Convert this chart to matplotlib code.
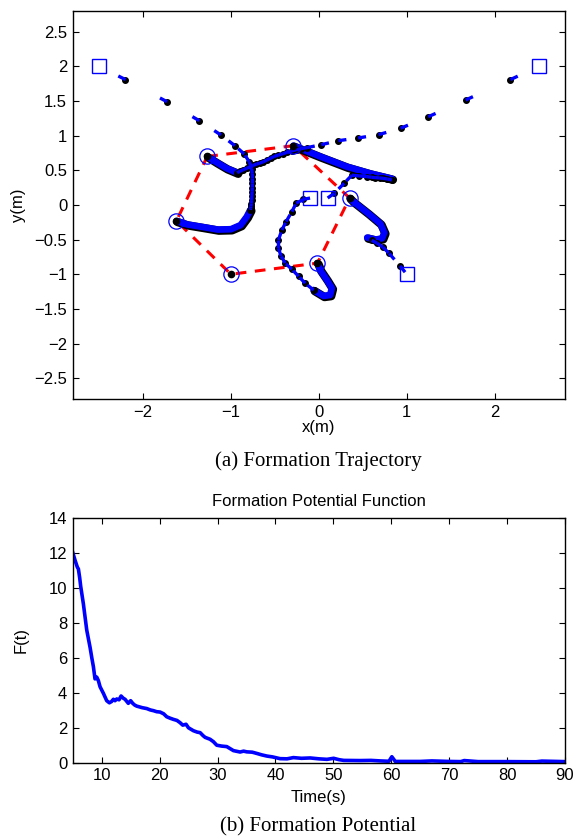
import numpy as np
import matplotlib
matplotlib.use("Agg")
import matplotlib.pyplot as plt
import matplotlib.patheffects as pe
from matplotlib.collections import LineCollection

plt.rcParams['font.family'] = ['Liberation Sans', 'DejaVu Sans']

# ---- robot trajectories (x, y) in metres ----
# sampled positions (black dots on the dashed blue path)
r1_x = [-2.5, -2.2, -1.727, -1.36, -1.114, -0.955, -0.849, -0.79, -0.765, -0.757, -0.755, -0.756, -0.757,
        -0.76, -0.762, -0.765, -0.768, -0.772, -0.776, -0.78]
r1_y = [2.0, 1.81, 1.49, 1.216, 1.01, 0.856, 0.736, 0.62, 0.52, 0.45, 0.38, 0.31, 0.25,
        0.19, 0.13, 0.07, 0.02, -0.02, -0.05, -0.07]
r2_x = [2.5, 2.18, 1.67, 1.245, 0.93, 0.68, 0.447, 0.223, 0.026, -0.136, -0.2, -0.25, -0.31, -0.36, -0.41,
        -0.46, -0.51, -0.55, -0.59, -0.63, -0.67, -0.71, -0.75, -0.78, -0.82, -0.86, -0.9, -0.93]
r2_y = [2.0, 1.81, 1.515, 1.274, 1.107, 1.015, 0.967, 0.928, 0.87, 0.827, 0.815, 0.80, 0.78, 0.76, 0.74,
        0.72, 0.70, 0.675, 0.65, 0.625, 0.605, 0.59, 0.57, 0.55, 0.53, 0.51, 0.485, 0.466]
r3_x = [0.1, 0.174, 0.288, 0.375, 0.46, 0.545, 0.6, 0.64, 0.69, 0.73, 0.78, 0.83]
r3_y = [0.1, 0.168, 0.313, 0.43, 0.42, 0.41, 0.40, 0.395, 0.39, 0.385, 0.375, 0.36]
r4_x = [-0.1, -0.175, -0.258, -0.307, -0.372, -0.42, -0.46, -0.46, -0.43, -0.383, -0.307, -0.23, -0.156, -0.06]
r4_y = [0.1, 0.082, 0.025, -0.096, -0.24, -0.36, -0.505, -0.625, -0.736, -0.84, -0.928, -1.03, -1.13, -1.227]
r5_x = [1.0, 0.924, 0.80, 0.73, 0.66, 0.6]
r5_y = [-1.0, -0.88, -0.70, -0.61, -0.55, -0.51]

# slow final approach (dense samples -> thick line)
s1_x = [-0.78, -0.82, -0.89, -1.0, -1.15, -1.31, -1.5, -1.62]
s1_y = [-0.07, -0.17, -0.29, -0.35, -0.355, -0.32, -0.28, -0.23]
s2_x = [-0.93, -1.05, -1.17, -1.27]
s2_y = [0.466, 0.53, 0.62, 0.70]
s3_x = [0.83, 0.58, 0.318, 0.015, -0.29]
s3_y = [0.38, 0.457, 0.553, 0.70, 0.856]
s4_x = [-0.06, 0.052, 0.128, 0.148, 0.09, 0.015, -0.016]
s4_y = [-1.227, -1.313, -1.30, -1.20, -1.08, -0.94, -0.84]
s5_x = [0.55, 0.65, 0.72, 0.745, 0.70, 0.56, 0.39, 0.35]
s5_y = [-0.47, -0.5, -0.48, -0.40, -0.27, -0.12, 0.05, 0.10]

start_x = [-2.5, 2.5, 0.1, -0.1, 1.0]
start_y = [2.0, 2.0, 0.1, 0.1, -1.0]

# final formation (hexagon vertices, in drawing order)
final_x = [-1.27, -0.29, 0.35, -0.016, -1.0, -1.62]
final_y = [0.70, 0.856, 0.10, -0.84, -1.0, -0.23]

x_ticks = [-2, -1, 0, 1, 2]
y_ticks = [-2.5, -2, -1.5, -1, -0.5, 0, 0.5, 1, 1.5, 2, 2.5]

# ---- formation potential ----
t = [5.0, 5.4, 5.8, 5.98, 6.2, 6.38, 6.84, 7.42, 8.0, 8.3, 8.57, 8.85, 9.15, 9.43, 9.72, 10.3, 10.87,
     11.33, 11.7, 12.02, 12.3, 12.6, 13.0, 13.35, 13.7, 14.04, 14.6, 15.0, 15.36, 15.7, 16.05, 17.0,
     17.78, 18.4, 18.93, 19.5, 20.08, 20.7, 21.23, 21.8, 22.39, 23.0, 23.54, 24.0, 24.57, 24.98,
     25.84, 26.5, 27.0, 27.5, 27.86, 28.72, 29.3, 29.87, 30.7, 31.6, 32.2, 32.75, 33.9, 34.5, 35.05,
     36.0, 36.78, 37.6, 38.5, 39.5, 40.8, 42.0, 43.1, 44.5, 46.0, 47.5, 48.9, 50.05, 51.0, 51.8,
     54.6, 56.5, 58.1, 59.6, 60.1, 60.7, 65.0, 67.0, 70.0, 72.0, 72.6, 75.0, 80.0, 85.0, 86.0, 90.0]
F = [12.05, 11.6, 11.2, 11.1, 10.6, 10.1, 9.1, 7.6, 6.6, 6.0, 5.5, 4.8, 4.9, 4.7, 4.35, 3.97, 3.55,
     3.43, 3.5, 3.63, 3.55, 3.65, 3.6, 3.82, 3.7, 3.63, 3.4, 3.55, 3.4, 3.3, 3.24, 3.15,
     3.1, 3.02, 2.98, 2.92, 2.9, 2.8, 2.63, 2.55, 2.48, 2.42, 2.29, 2.15, 2.2, 2.0,
     1.83, 1.75, 1.72, 1.55, 1.45, 1.34, 1.2, 1.0, 0.95, 0.92, 0.8, 0.69, 0.61, 0.66, 0.62,
     0.6, 0.53, 0.45, 0.38, 0.33, 0.23, 0.22, 0.29, 0.25, 0.27, 0.22, 0.19, 0.25, 0.17, 0.13,
     0.12, 0.13, 0.1, 0.08, 0.34, 0.07, 0.07, 0.1, 0.07, 0.06, 0.12, 0.06, 0.06, 0.05, 0.09, 0.06]

W, H = 578, 838
fig = plt.figure(figsize=(W / 100, H / 100), dpi=100)
ax1 = fig.add_axes([0.1258, 0.5239, 0.8517, 0.463])
ax2 = fig.add_axes([0.1258, 0.0899, 0.8517, 0.2916])

for ax in (ax1, ax2):
    ax.tick_params(direction='in', top=True, right=True, length=4, width=0.8, labelsize=12, pad=4)
    for sp in ax.spines.values():
        sp.set_linewidth(1.0)

ax1.set_xlim(-2.8, 2.8)
ax1.set_ylim(-2.8, 2.8)
ax1.set_xticks(x_ticks)
ax1.set_xticklabels([f"{v:g}".replace('-', '\u2212') for v in x_ticks])
ax1.set_yticks(y_ticks)
ax1.set_yticklabels([f"{v:g}".replace('-', '\u2212') for v in y_ticks])

# red dashed formation outline
ax1.plot(final_x + final_x[:1], final_y + final_y[:1], color='red', lw=2.2,
         dashes=(3.5, 2.8), zorder=2)

# thick slow segments
slow = [(s1_x, s1_y), (s2_x, s2_y), (s3_x, s3_y), (s4_x, s4_y), (s5_x, s5_y)]
for sx, sy in slow:
    ax1.plot(sx, sy, color='blue', lw=4.8, solid_capstyle='round', zorder=3,
             path_effects=[pe.Stroke(linewidth=6.0, foreground='black', offset=(0.8, -0.8)), pe.Normal()])

# sampled paths: short blue tail behind each black dot
fig.canvas.draw()
trans = ax1.transData
inv = trans.inverted()
tail_len = 8.0
segs = []
for rx, ry in [(r1_x, r1_y), (r2_x, r2_y), (r3_x, r3_y), (r4_x, r4_y), (r5_x, r5_y)]:
    pts = trans.transform(np.column_stack([rx, ry]))
    for i in range(1, len(pts)):
        d = pts[i - 1] - pts[i]
        n = np.hypot(*d)
        a = pts[i] + d / n * min(tail_len, n)
        segs.append(inv.transform([a, pts[i]]))
    ax1.plot(rx[1:], ry[1:], 'o', color='black', ms=4.0, zorder=4)
ax1.add_collection(LineCollection(segs, colors='blue', linewidths=2.4, zorder=5))
for sx, sy in slow:
    ax1.plot(sx[-1:], sy[-1:], 'o', color='black', ms=4.5, zorder=5)
ax1.plot(final_x[4:5], final_y[4:5], 'o', color='black', ms=4.5, zorder=5)

ax1.plot(start_x, start_y, 's', mfc='none', mec='blue', ms=10, mew=1.0, zorder=6)
ax1.plot(final_x, final_y, 'o', mfc='none', mec='blue', ms=11, mew=0.9, zorder=6)

ax1.set_xlabel('x(m)', fontsize=12)
ax1.set_ylabel('y(m)', fontsize=12)
ax1.xaxis.set_label_coords(0.5, -0.053)
ax1.yaxis.set_label_coords(-0.095, 0.5)

# potential function
ax2.plot(t, F, color='blue', lw=2.6)
ax2.set_xlim(5, 90)
ax2.set_ylim(0, 14)
ax2.set_xticks([10, 20, 30, 40, 50, 60, 70, 80, 90])
ax2.set_yticks([0, 2, 4, 6, 8, 10, 12, 14])
ax2.text(0.5, 1.068, 'Formation Potential Function', transform=ax2.transAxes,
         ha='center', va='center', fontsize=12)
ax2.set_xlabel('Time(s)', fontsize=12)
ax2.set_ylabel('F(t)', fontsize=12)
ax2.xaxis.set_label_coords(0.5, -0.112)
ax2.yaxis.set_label_coords(-0.09, 0.5)

fig.text(318.5 / W, 1 - 461 / H, '(a) Formation Trajectory', ha='center', va='center',
         family='Liberation Serif', fontsize=15)
fig.text(318.5 / W, 1 - 826.5 / H, '(b) Formation Potential', ha='center', va='center',
         family='Liberation Serif', fontsize=15)

fig.savefig('out.png', dpi=100)
